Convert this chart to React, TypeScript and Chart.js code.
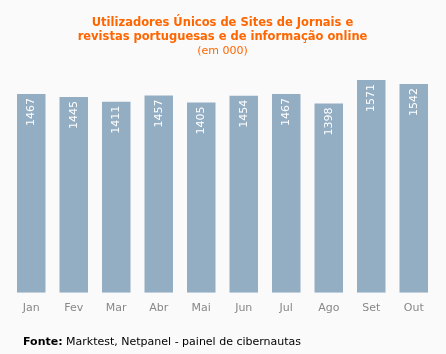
import React, { useEffect, useRef } from "react";
import { Chart, registerables } from "chart.js";

Chart.register(...registerables);

const categories = ["Jan", "Fev", "Mar", "Abr", "Mai", "Jun", "Jul", "Ago", "Set", "Out"];
const values = [1467, 1445, 1411, 1457, 1405, 1454, 1467, 1398, 1571, 1542];
const titleLines = ["Utilizadores Únicos de Sites de Jornais e", "revistas portuguesas e de informação online"];
const subtitleText = "(em 000)";
const sourceLabel = "Fonte:";
const sourceText = " Marktest, Netpanel - painel de cibernautas";

const FONT = "'DejaVu Sans', Verdana, sans-serif";

const bgPlugin = {
  id: "bg",
  beforeDraw(chart: any) {
    const ctx = chart.ctx;
    ctx.save();
    ctx.fillStyle = "#fafafa";
    ctx.fillRect(0, 0, chart.width, chart.height);
    ctx.restore();
  },
};

const valueLabels = {
  id: "valueLabels",
  afterDatasetsDraw(chart: any) {
    const ctx = chart.ctx;
    const meta = chart.getDatasetMeta(0);
    ctx.save();
    ctx.fillStyle = "#ffffff";
    ctx.font = `11px ${FONT}`;
    ctx.textAlign = "right";
    ctx.textBaseline = "middle";
    meta.data.forEach((bar: any, i: number) => {
      ctx.save();
      ctx.translate(bar.x, bar.y + 4);
      ctx.rotate(-Math.PI / 2);
      ctx.fillText(String(values[i]), 0, 0);
      ctx.restore();
    });
    ctx.restore();
  },
};

const footerPlugin = {
  id: "footer",
  afterDraw(chart: any) {
    const ctx = chart.ctx;
    ctx.save();
    ctx.textBaseline = "middle";
    ctx.textAlign = "left";
    ctx.fillStyle = "#000000";
    ctx.font = `bold 11px ${FONT}`;
    const x = 23;
    const y = 342;
    ctx.fillText(sourceLabel, x, y);
    const w = ctx.measureText(sourceLabel).width;
    ctx.font = `11px ${FONT}`;
    ctx.fillText(sourceText, x + w, y);
    ctx.restore();
  },
};

export default function App() {
  const ref = useRef<HTMLCanvasElement>(null);
  useEffect(() => {
    document.body.style.margin = "0";
    const chart = new Chart(ref.current!, {
      type: "bar",
      data: {
        labels: categories,
        datasets: [
          {
            data: values,
            backgroundColor: "#93adc3",
            categoryPercentage: 1,
            barPercentage: 0.67,
          },
        ],
      },
      options: {
        responsive: false,
        animation: false,
        layout: { padding: { left: 10, right: 11, top: 0, bottom: 30 } },
        plugins: {
          legend: { display: false },
          tooltip: { enabled: false },
          title: {
            display: true,
            text: titleLines,
            color: "#ff6600",
            font: { family: FONT, size: 11.5, weight: "bold", lineHeight: 1.22 },
            padding: { top: 16, bottom: 0 },
          },
          subtitle: {
            display: true,
            text: subtitleText,
            color: "#ff6600",
            font: { family: FONT, size: 11, weight: "normal", lineHeight: 1.27 },
            padding: { top: 0, bottom: 18 },
          },
        },
        scales: {
          x: {
            grid: { display: false, drawTicks: false },
            border: { display: false },
            ticks: { color: "#888888", font: { family: FONT, size: 11 }, padding: 9 },
          },
          y: {
            display: false,
            min: 0,
            max: 1600,
          },
        },
      },
      plugins: [bgPlugin, valueLabels, footerPlugin],
    });
    return () => chart.destroy();
  }, []);
  return <canvas ref={ref} width={446} height={354} style={{ display: "block" }} />;
}
